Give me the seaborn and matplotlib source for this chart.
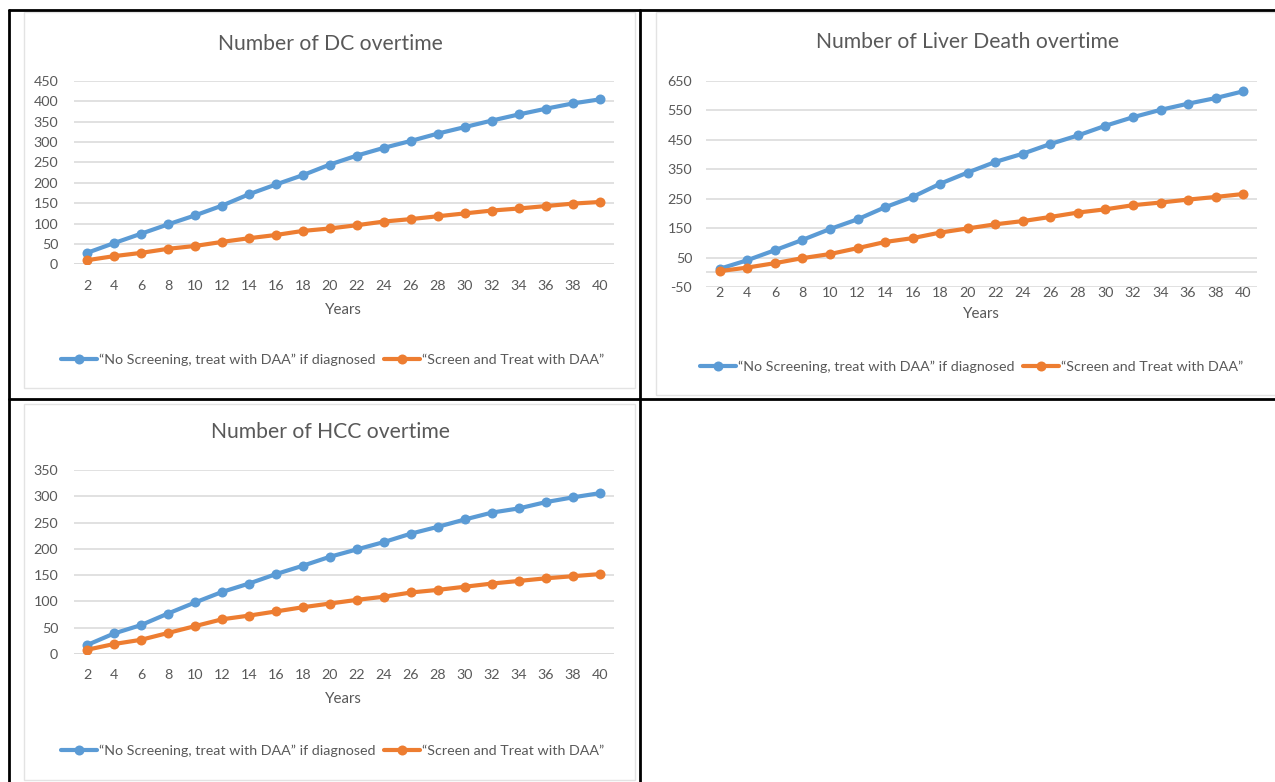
import numpy as np
import pandas as pd
import matplotlib
matplotlib.use("Agg")
import matplotlib.pyplot as plt
from matplotlib.lines import Line2D
from matplotlib.patches import Rectangle
import seaborn as sns

sns.set_theme(style="white")
plt.rcParams["font.family"] = ["Lato", "DejaVu Sans"]
plt.rcParams["axes.unicode_minus"] = False

years = list(range(2, 41, 2))

series_names = ["\u201cNo Screening, treat with DAA\u201d if diagnosed",
                "\u201cScreen and Treat with DAA\u201d"]

dc_no_screen = [28, 52, 75, 98, 120, 144, 172, 196, 219, 245,
                267, 286, 303, 321, 337, 353, 368, 382, 395, 405]
dc_screen = [10, 20, 28, 38, 45, 55, 64, 72, 82, 88,
             96, 105, 111, 118, 125, 132, 137, 143, 149, 153]

ld_no_screen = [12, 41, 75, 110, 147, 180, 221, 256, 301, 339,
                375, 403, 436, 465, 498, 527, 552, 573, 592, 615]
ld_screen = [4, 16, 31, 48, 62, 82, 103, 116, 135, 149,
             163, 174, 188, 203, 214, 228, 237, 247, 256, 266]

hcc_no_screen = [17, 39, 55, 77, 98, 118, 134, 152, 168, 185,
                 199, 213, 229, 242, 256, 269, 277, 289, 298, 306]
hcc_screen = [8, 19, 27, 40, 53, 66, 73, 81, 89, 96,
              103, 109, 117, 122, 128, 134, 139, 144, 148, 152]

titles = ["Number of DC overtime", "Number of Liver Death overtime",
          "Number of HCC overtime"]

BLUE = "#5b9bd5"
ORANGE = "#ed7d31"
GRID = "#d9d9d9"
TXT = "#595959"
LW = 3.0
MS = 7.2

W, H = 1275, 782
fig = plt.figure(figsize=(W / 100, H / 100), dpi=100)


def frac_box(x0, y0, x1, y1):
    """Pixel box (top-left origin) -> figure fraction rect."""
    return [x0 / W, 1 - y1 / H, (x1 - x0) / W, (y1 - y0) / H]


def px(x, y):
    return x / W, 1 - y / H


def draw_chart(box, title, title_xy, no_screen, screen, ylim, yticks,
               xtick_pad, years_y, legend_xy, ytick_pad):
    ax = fig.add_axes(frac_box(*box))
    df = pd.DataFrame({
        "Year": years * 2,
        "Value": no_screen + screen,
        "Series": [series_names[0]] * len(years) + [series_names[1]] * len(years),
    })
    ax.set_xlim(1, 41)
    ax.set_ylim(*ylim)
    ax.set_yticks(yticks)
    ax.set_xticks(years)
    for yv in yticks:
        ax.axhline(yv, color=GRID, lw=1.1, zorder=0)
    ax.axhline(0, color=GRID, lw=1.1, zorder=0)
    sns.lineplot(data=df, x="Year", y="Value", hue="Series",
                 palette=[BLUE, ORANGE], marker="o", markersize=MS,
                 markeredgewidth=0, linewidth=LW, ax=ax, legend=False,
                 zorder=3)
    for s in ax.spines.values():
        s.set_visible(False)
    ax.tick_params(axis="both", length=0, labelsize=10.3, colors=TXT)
    ax.tick_params(axis="x", pad=xtick_pad)
    ax.tick_params(axis="y", pad=ytick_pad)
    ax.set_xlabel("")
    ax.set_ylabel("")
    ax.grid(False)
    ax.set_facecolor("none")

    fig.text(*px(*title_xy), title, ha="center", va="center",
             fontsize=15.2, color=TXT)
    cx = (box[0] + box[2]) / 2
    fig.text(*px(cx, years_y), "Years", ha="center", va="center",
             fontsize=10.8, color=TXT)

    handles = [Line2D([], [], color=BLUE, lw=LW, marker="o", markersize=MS,
                      markeredgewidth=0),
               Line2D([], [], color=ORANGE, lw=LW, marker="o", markersize=MS,
                      markeredgewidth=0)]
    fig.legend(handles, series_names, loc="center",
               bbox_to_anchor=px(*legend_xy), ncol=2, frameon=False,
               fontsize=10.3, labelcolor=TXT, handlelength=2.5,
               handletextpad=0.15, columnspacing=0.6, borderaxespad=0)
    return ax


# chart frames
for (x0, y0, x1, y1) in [(24, 12, 635, 388), (656, 12, 1290, 395),
                         (24, 404, 635, 780)]:
    fig.add_artist(Rectangle(px(x0, y1), (x1 - x0) / W, (y1 - y0) / H,
                             transform=fig.transFigure, fill=False,
                             edgecolor="#e3e3e3", lw=1.0))

draw_chart((73.5, 81, 613.5, 264.3), titles[0], (330, 44),
           dc_no_screen, dc_screen, (0, 450), list(range(0, 451, 50)),
           xtick_pad=11, years_y=310, legend_xy=(333, 360), ytick_pad=11)

draw_chart((706, 81, 1257, 287), titles[1], (968, 42),
           ld_no_screen, ld_screen, (-50, 650), list(range(-50, 651, 100)),
           xtick_pad=0, years_y=314, legend_xy=(972, 367), ytick_pad=10)

draw_chart((73.5, 470, 613.5, 654), titles[2], (331, 432),
           hcc_no_screen, hcc_screen, (0, 350), list(range(0, 351, 50)),
           xtick_pad=11, years_y=699, legend_xy=(333, 751), ytick_pad=11)

# table borders
lw_tab = 2.0
for (x0, y0, x1, y1) in [(9, 10, 1275, 10), (9, 10, 9, 782),
                         (640, 10, 640, 782), (9, 398.5, 1275, 398.5)]:
    fig.add_artist(Line2D([x0 / W, x1 / W], [1 - y0 / H, 1 - y1 / H],
                          transform=fig.transFigure, color="black", lw=lw_tab))

fig.savefig("out.png", dpi=100, facecolor="white")
